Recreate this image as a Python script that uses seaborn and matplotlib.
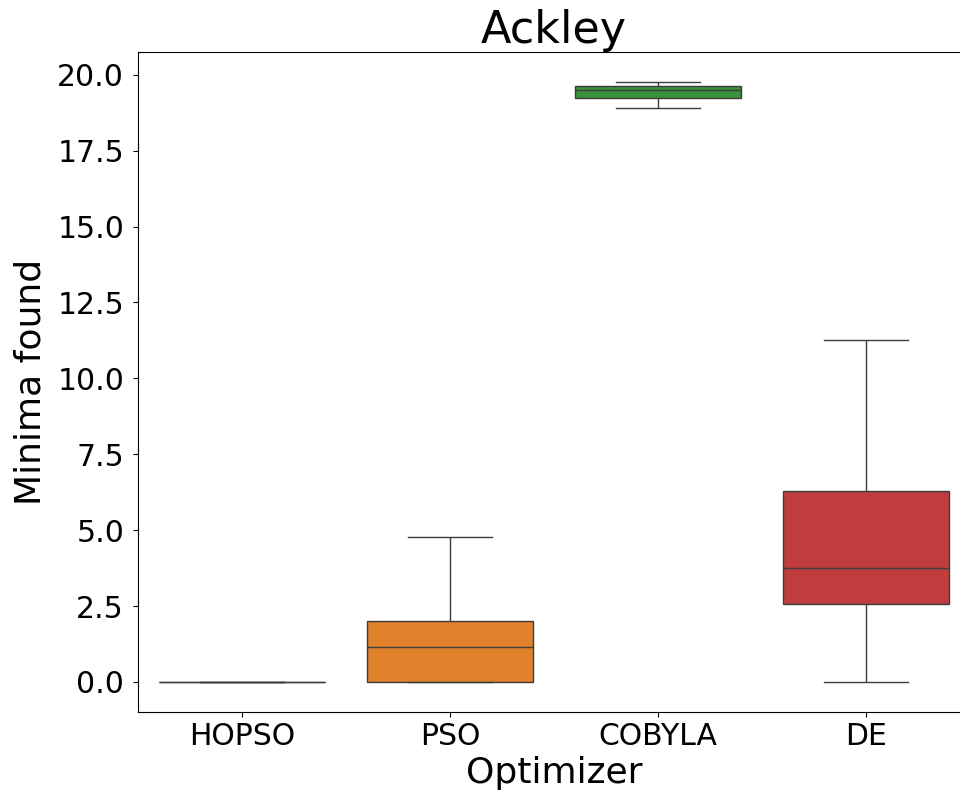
import numpy as np
import pandas as pd
import matplotlib
matplotlib.use("Agg")
import matplotlib.pyplot as plt
import seaborn as sns

# Minima found per optimizer on the Ackley benchmark (summary runs)
optimizers = ["HOPSO", "PSO", "COBYLA", "DE"]
hopso_minima = [0.0, 0.0, 0.0, 0.0, 0.0]
pso_minima = [0.0, 0.0, 1.15, 2.0, 4.76]
cobyla_minima = [18.92, 19.25, 19.5, 19.62, 19.76]
de_minima = [0.0, 2.58, 3.74, 6.3, 11.25]

runs = [hopso_minima, pso_minima, cobyla_minima, de_minima]
df = pd.DataFrame({
    "Optimizer": np.repeat(optimizers, [len(r) for r in runs]),
    "Minima found": np.concatenate(runs),
})

fig = plt.figure(figsize=(9.6, 7.98), dpi=100)
ax = fig.add_axes([0.14375, 0.1078, 0.8667, 0.827])

sns.boxplot(data=df, x="Optimizer", y="Minima found", hue="Optimizer",
            order=optimizers, hue_order=optimizers, legend=False,
            showfliers=False, ax=ax)

ax.set_title("Ackley", fontsize=32)
ax.set_xlabel("Optimizer", fontsize=26)
ax.set_ylabel("Minima found", fontsize=26, labelpad=7)
ax.tick_params(axis="both", labelsize=21.5)
ax.tick_params(axis="y", pad=6.5)

fig.savefig("out.png", dpi=100)
